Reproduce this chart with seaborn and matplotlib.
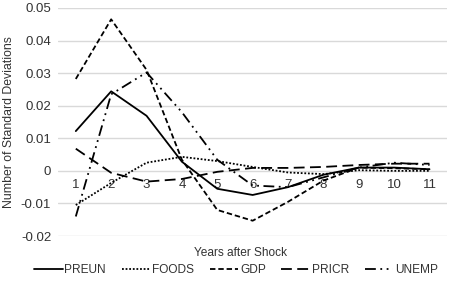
import pandas as pd
import matplotlib.pyplot as plt
import seaborn as sns

# 読み取った値（ショック後の年数ごと）
years = list(range(1, 12))
preun = [0.0122, 0.0244, 0.0169, 0.0028, -0.0055, -0.0074, -0.0050, -0.0012, 0.0010, 0.0010, 0.0005]
foods = [-0.0105, -0.0037, 0.0025, 0.0043, 0.0030, 0.0012, -0.0005, -0.0010, 0.0002, 0.0000, 0.0000]
gdp = [0.0282, 0.0465, 0.0310, 0.0034, -0.0120, -0.0153, -0.0095, -0.0030, 0.0010, 0.0008, 0.0005]
pricr = [0.0068, -0.0006, -0.0033, -0.0025, -0.0003, 0.0009, 0.0009, 0.0012, 0.0018, 0.0022, 0.0022]
unemp = [-0.0140, 0.0235, 0.0302, 0.0180, 0.0034, -0.0045, -0.0050, -0.0020, 0.0010, 0.0025, 0.0018]

series_names = ["PREUN", "FOODS", "GDP", "PRICR", "UNEMP"]
series_values = [preun, foods, gdp, pricr, unemp]

df = pd.DataFrame({
    "year": years * len(series_names),
    "value": sum(series_values, []),
    "series": [n for n in series_names for _ in years],
})

sns.set_style("white")
plt.rcParams["font.family"] = ["Liberation Sans", "DejaVu Sans"]

fig = plt.figure(figsize=(4.54, 2.83), dpi=100)
ax = fig.add_axes([0.128, 0.166, 0.857, 0.806])

dashes = {
    "PREUN": "",
    "FOODS": (1, 1),
    "GDP": (3, 1.6),
    "PRICR": (6, 3),
    "UNEMP": (6, 2.5, 1, 2.5, 1, 2.5),
}
sns.lineplot(data=df, x="year", y="value", style="series", dashes=dashes,
             color="black", linewidth=1.3, ax=ax, legend=True)

ax.set_xlim(0.5, 11.5)
ax.set_ylim(-0.02, 0.05)
ax.set_yticks([-0.02, -0.01, 0, 0.01, 0.02, 0.03, 0.04, 0.05])
ax.set_yticklabels(["-0.02", "-0.01", "0", "0.01", "0.02", "0.03", "0.04", "0.05"])
ax.set_xticks(years)
ax.grid(axis="y", color="#d9d9d9", linewidth=1)
ax.set_axisbelow(True)

for s in ["top", "right", "left"]:
    ax.spines[s].set_visible(False)
ax.spines["bottom"].set_position(("data", 0))
ax.spines["bottom"].set_visible(False)
ax.tick_params(axis="both", length=0, labelsize=9.5, colors="#333333")
ax.tick_params(axis="x", pad=6)
ax.tick_params(axis="y", pad=5)

ax.set_xlabel("")
ax.set_ylabel("Number of Standard Deviations", fontsize=8.8, color="#333333", labelpad=4)
fig.text(0.53, 0.105, "Years after Shock", ha="center", va="center", fontsize=8.6, color="#333333")

handles, labels = ax.get_legend_handles_labels()
ax.legend(handles, labels, loc="center", bbox_to_anchor=(0.52, 0.047),
          bbox_transform=fig.transFigure, ncol=5, frameon=False,
          fontsize=8.6, handlelength=2.4, columnspacing=1.3, handletextpad=0.15,
          labelcolor="#333333")

fig.savefig("out.png", dpi=100)
